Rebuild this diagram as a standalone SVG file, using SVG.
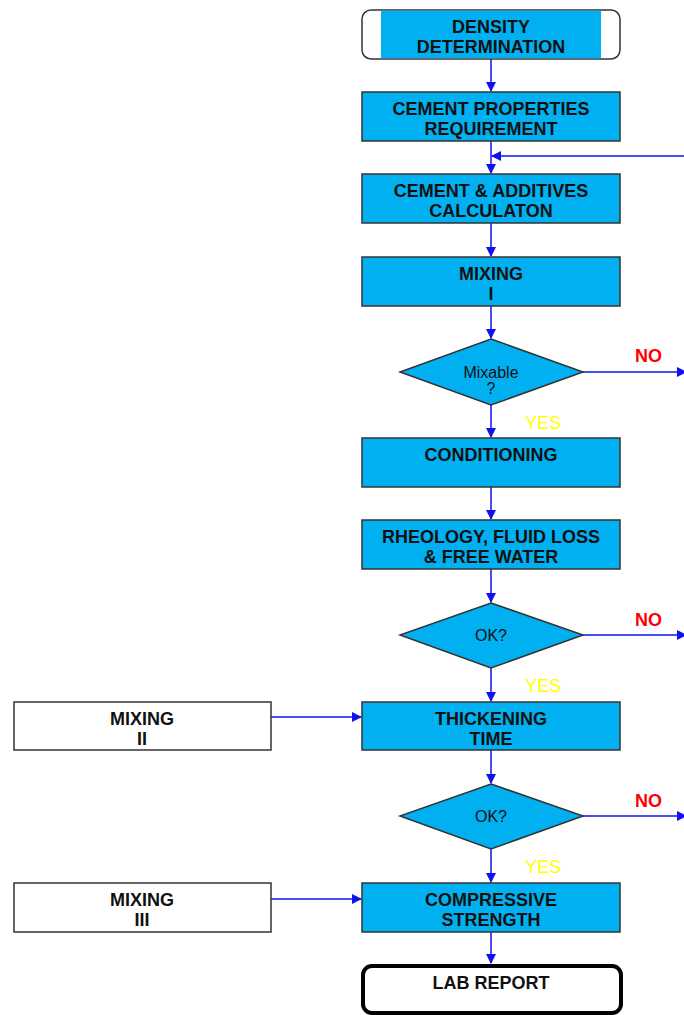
<svg xmlns="http://www.w3.org/2000/svg" width="684" height="1015" viewBox="0 0 684 1015">
<defs>
<marker id="ah" markerWidth="10" markerHeight="10" refX="9" refY="5" orient="auto" markerUnits="userSpaceOnUse">
<path d="M0,0 L10,5 L0,10 Z" fill="#1010F0"/>
</marker>
<style>
.box{fill:#00B0F0;stroke:#333;stroke-width:1.5}
.wbox{fill:#fff;stroke:#333;stroke-width:1.5}
.t{font-family:"Liberation Sans",Arial,sans-serif;font-size:18px;font-weight:bold;fill:#111;text-anchor:middle}
.d{font-family:"Liberation Sans",Arial,sans-serif;font-size:16px;fill:#111;text-anchor:middle}
.no{font-family:"Liberation Sans",Arial,sans-serif;font-size:18px;font-weight:bold;fill:#FF0000}
.yes{font-family:"Liberation Sans",Arial,sans-serif;font-size:18px;fill:#FFFF00}
.c{stroke:#1010F0;stroke-width:1.5;fill:none}
</style>
</defs>
<rect width="684" height="1015" fill="#fff"/>
<g id="connectors">
<line class="c" x1="491" y1="59" x2="491" y2="91" marker-end="url(#ah)"/>
<line class="c" x1="491" y1="141" x2="491" y2="173" marker-end="url(#ah)"/>
<line class="c" x1="684" y1="156" x2="492" y2="156" marker-end="url(#ah)"/>
<line class="c" x1="491" y1="223" x2="491" y2="256" marker-end="url(#ah)"/>
<line class="c" x1="491" y1="306" x2="491" y2="338" marker-end="url(#ah)"/>
<line class="c" x1="491" y1="405" x2="491" y2="437" marker-end="url(#ah)"/>
<line class="c" x1="583" y1="372" x2="686" y2="372" marker-end="url(#ah)"/>
<line class="c" x1="491" y1="487" x2="491" y2="519" marker-end="url(#ah)"/>
<line class="c" x1="491" y1="569" x2="491" y2="602" marker-end="url(#ah)"/>
<line class="c" x1="491" y1="668" x2="491" y2="701" marker-end="url(#ah)"/>
<line class="c" x1="583" y1="635" x2="686" y2="635" marker-end="url(#ah)"/>
<line class="c" x1="271" y1="717" x2="361" y2="717" marker-end="url(#ah)"/>
<line class="c" x1="491" y1="750" x2="491" y2="783" marker-end="url(#ah)"/>
<line class="c" x1="491" y1="849" x2="491" y2="882" marker-end="url(#ah)"/>
<line class="c" x1="583" y1="816" x2="686" y2="816" marker-end="url(#ah)"/>
<line class="c" x1="271" y1="899" x2="361" y2="899" marker-end="url(#ah)"/>
<line class="c" x1="491" y1="932" x2="491" y2="963" marker-end="url(#ah)"/>
</g>
<g id="density">
<rect x="362" y="10" width="258" height="49" rx="9" fill="#fff" stroke="#333" stroke-width="1.5"/>
<rect x="381" y="10.75" width="220" height="47.5" fill="#00B0F0"/>
<text class="t" x="491" y="33">DENSITY</text>
<text class="t" x="491" y="53">DETERMINATION</text>
</g>
<g id="cement-properties">
<rect class="box" x="362" y="92" width="258" height="49"/>
<text class="t" x="491" y="115">CEMENT PROPERTIES</text>
<text class="t" x="491" y="135">REQUIREMENT</text>
</g>
<g id="cement-additives">
<rect class="box" x="362" y="174" width="258" height="49"/>
<text class="t" x="491" y="197">CEMENT &amp; ADDITIVES</text>
<text class="t" x="491" y="217">CALCULATON</text>
</g>
<g id="mixing-1">
<rect class="box" x="362" y="257" width="258" height="49"/>
<text class="t" x="491" y="280">MIXING</text>
<text class="t" x="491" y="300">I</text>
</g>
<g id="mixable">
<polygon class="box" points="491,339 583,372 491,405 400,372"/>
<text class="d" x="491" y="378">Mixable</text>
<text class="d" x="491" y="394">?</text>
<text class="no" x="635" y="362">NO</text>
<text class="yes" x="525" y="429">YES</text>
</g>
<g id="conditioning">
<rect class="box" x="362" y="438" width="258" height="49"/>
<text class="t" x="491" y="461">CONDITIONING</text>
</g>
<g id="rheology">
<rect class="box" x="362" y="520" width="258" height="49"/>
<text class="t" x="491" y="543">RHEOLOGY, FLUID LOSS</text>
<text class="t" x="491" y="563">&amp; FREE WATER</text>
</g>
<g id="ok1">
<polygon class="box" points="491,603 583,635 491,668 400,635"/>
<text class="d" x="491" y="641">OK?</text>
<text class="no" x="635" y="626">NO</text>
<text class="yes" x="525" y="692">YES</text>
</g>
<g id="mixing-2">
<rect class="wbox" x="14" y="702" width="257" height="48"/>
<text class="t" x="142" y="725">MIXING</text>
<text class="t" x="142" y="745">II</text>
</g>
<g id="thickening">
<rect class="box" x="362" y="702" width="258" height="48"/>
<text class="t" x="491" y="725">THICKENING</text>
<text class="t" x="491" y="745">TIME</text>
</g>
<g id="ok2">
<polygon class="box" points="491,784 583,816 491,849 400,816"/>
<text class="d" x="491" y="822">OK?</text>
<text class="no" x="635" y="807">NO</text>
<text class="yes" x="525" y="873">YES</text>
</g>
<g id="mixing-3">
<rect class="wbox" x="14" y="883" width="257" height="49"/>
<text class="t" x="142" y="906">MIXING</text>
<text class="t" x="142" y="926">III</text>
</g>
<g id="compressive">
<rect class="box" x="362" y="883" width="258" height="49"/>
<text class="t" x="491" y="906">COMPRESSIVE</text>
<text class="t" x="491" y="926">STRENGTH</text>
</g>
<g id="lab-report">
<rect x="363" y="966" width="258" height="47" rx="9" fill="#fff" stroke="#000" stroke-width="4"/>
<text class="t" x="491" y="989">LAB REPORT</text>
</g>
</svg>
